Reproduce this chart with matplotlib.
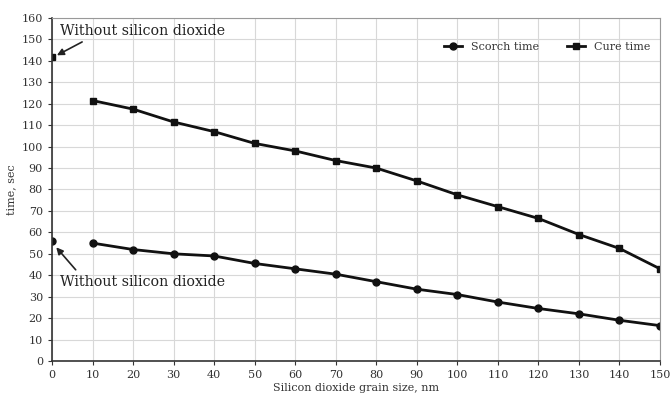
import matplotlib
matplotlib.use("Agg")
import matplotlib.pyplot as plt

plt.rcParams['font.family'] = ['DejaVu Serif']

grain = [10, 20, 30, 40, 50, 60, 70, 80, 90, 100, 110, 120, 130, 140, 150]
scorch = [55, 52, 50, 49, 45.5, 43, 40.5, 37, 33.5, 31, 27.5, 24.5, 22, 19, 16.5]
cure = [121.5, 117.5, 111.5, 107, 101.5, 98, 93.5, 90, 84, 77.5, 72, 66.5, 59, 52.5, 43]
scorch_none = 56
cure_none = 142

xticks = list(range(0, 151, 10))
yticks = list(range(0, 161, 10))

fig = plt.figure(figsize=(6.71, 3.99), dpi=100)
ax = fig.add_axes([52/671, 1 - 361/399, 608/671, 343/399])

ax.plot(grain, scorch, color='#111111', lw=2, marker='o', ms=5, label='Scorch time')
ax.plot(grain, cure, color='#111111', lw=2, marker='s', ms=5, label='Cure time')
ax.plot([0], [scorch_none], color='#111111', marker='o', ms=5, ls='none')
ax.plot([0], [cure_none], color='#111111', marker='s', ms=5, ls='none')

ax.set_xlim(0, 150)
ax.set_ylim(0, 160)
ax.set_xticks(xticks)
ax.set_yticks(yticks)
ax.tick_params(labelsize=8, length=3, color='#333333', labelcolor='#333333')
ax.grid(True, color='#d8d8d8', lw=0.8)
ax.set_axisbelow(True)
for s in ['top', 'right']:
    ax.spines[s].set_color('#999999')
for s in ['left', 'bottom']:
    ax.spines[s].set_color('#333333')
    ax.spines[s].set_linewidth(1.2)

ax.set_xlabel('Silicon dioxide grain size, nm', fontsize=8, color='#333333', labelpad=2)
ax.set_ylabel('time, sec', fontsize=8, color='#333333', labelpad=4)

ax.annotate('Without silicon dioxide', xy=(0.6, cure_none), xytext=(2.0, 154),
            fontsize=10.3, color='#222222', va='center',
            arrowprops=dict(arrowstyle='-|>', color='#222222', lw=1.2, mutation_scale=10,
                            shrinkA=2, shrinkB=2, relpos=(0.18, 0)))
ax.annotate('Without silicon dioxide', xy=(0.6, 54), xytext=(2.0, 37),
            fontsize=10.3, color='#222222', va='center',
            arrowprops=dict(arrowstyle='-|>', color='#222222', lw=1.2, mutation_scale=10,
                            shrinkA=2, shrinkB=2, relpos=(0.12, 1)))

ax.legend(loc='upper right', ncol=2, frameon=False, fontsize=8, handlelength=1.6,
          columnspacing=2.5, bbox_to_anchor=(1.0, 0.96), labelcolor='#333333')

fig.savefig('out.png', dpi=100)
